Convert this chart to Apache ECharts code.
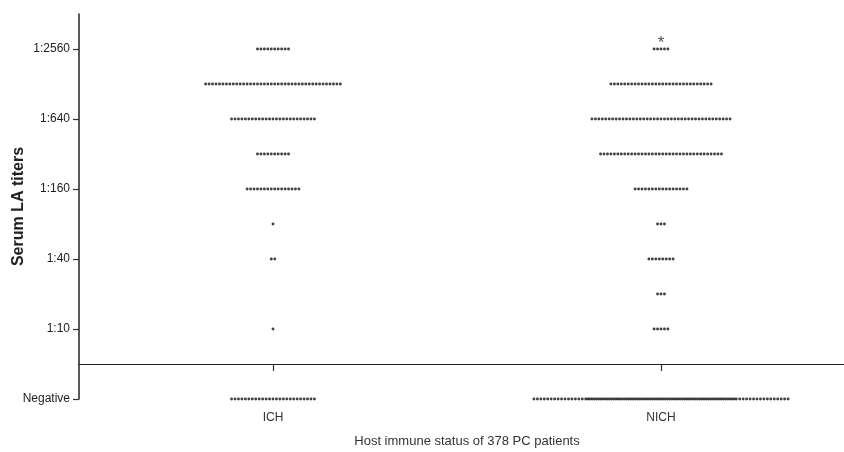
<!DOCTYPE html>
<html>
<head>
<meta charset="utf-8">
<script src="https://cdn.jsdelivr.net/npm/echarts@6/dist/echarts.min.js"></script>
<style>
  html, body { margin: 0; padding: 0; background: #fff; }
  #chart { width: 844px; height: 452px; }
</style>
</head>
<body>
<div id="chart"></div>
<script>
// 滴度分组（Negative 画在 -1，1:10 起依次 1..9）
var titerLabels = ['Negative', '1:10', '1:20', '1:40', '1:80', '1:160', '1:320', '1:640', '1:1280', '1:2560'];
var titerLevels = [-1, 1, 2, 3, 4, 5, 6, 7, 8, 9];
// 每组病人数（对应 titerLabels 顺序）
var ichCounts = [25, 1, 0, 2, 1, 16, 10, 25, 40, 10];
var nichCounts = [101, 5, 3, 8, 3, 16, 36, 41, 30, 5];
var groups = ['ICH', 'NICH'];
var groupPos = [1, 3];
// 只显示这几个刻度
var tickLevels = [-1, 1, 3, 5, 7, 9];

var STEP = 0.0178;   // 点间距（x 轴单位）
var MAX_W = 1.31;    // 一行最大宽度
var EDGE = 15;       // 超宽时两端稀疏点数

// 一行点的横向偏移
function rowOffsets(n) {
  var out = [];
  var fit = Math.floor(MAX_W / STEP) + 1;
  if (n <= fit) {
    for (var i = 0; i < n; i++) out.push((i - (n - 1) / 2) * STEP);
    return out;
  }
  var mid = n - 2 * EDGE;
  var midW = MAX_W - 2 * EDGE * STEP;
  var midStep = midW / (mid - 1);
  for (var a = 0; a < EDGE; a++) out.push(-MAX_W / 2 + a * STEP);
  for (var b = 0; b < mid; b++) out.push(-midW / 2 + b * midStep);
  for (var c = 0; c < EDGE; c++) out.push(midW / 2 + (c + 1) * STEP);
  return out;
}

function buildDots(counts, center) {
  var pts = [];
  counts.forEach(function (n, k) {
    rowOffsets(n).forEach(function (dx) {
      pts.push([center + dx, titerLevels[k]]);
    });
  });
  return pts;
}

var chart = echarts.init(document.getElementById('chart'));
var dotStyle = { color: '#111' };

chart.setOption({
  backgroundColor: '#ffffff',
  animation: false,
  grid: { left: 79, right: -11, top: 14, bottom: 53, containLabel: false, outerBoundsMode: 'none' },
  xAxis: {
    type: 'value',
    min: 0,
    max: 4,
    name: 'Host immune status of 378 PC patients',
    nameLocation: 'middle',
    nameGap: 36,
    nameMoveOverlap: false,
    nameTextStyle: { fontFamily: 'Liberation Sans', fontSize: 13, color: '#333' },
    splitLine: { show: false },
    axisLine: { onZero: true, lineStyle: { color: '#222', width: 1.2 } },
    axisTick: {
      customValues: groupPos,
      length: 7,
      lineStyle: { color: '#333', width: 1.2 }
    },
    axisLabel: {
      customValues: groupPos,
      margin: 13,
      fontFamily: 'Liberation Sans',
      fontSize: 12,
      color: '#333',
      formatter: function (v) { return groups[groupPos.indexOf(v)]; }
    }
  },
  yAxis: {
    type: 'value',
    min: -1,
    max: 10,
    name: 'Serum LA titers',
    nameLocation: 'middle',
    nameGap: 52,
    nameMoveOverlap: false,
    nameTextStyle: { fontFamily: 'Liberation Sans', fontSize: 16, fontWeight: 'bold', color: '#222' },
    splitLine: { show: false },
    axisLine: { show: true, onZero: false, lineStyle: { color: '#222', width: 1.5 } },
    axisTick: {
      customValues: tickLevels,
      length: 6,
      lineStyle: { color: '#333', width: 1.2 }
    },
    axisLabel: {
      customValues: tickLevels,
      margin: 9,
      fontFamily: 'Liberation Sans',
      fontSize: 12,
      color: '#222',
      formatter: function (v) { return titerLabels[titerLevels.indexOf(v)]; }
    }
  },
  series: [
    {
      name: 'ICH',
      type: 'scatter',
      symbol: 'circle',
      symbolSize: 2.9,
      itemStyle: dotStyle,
      data: buildDots(ichCounts, groupPos[0])
    },
    {
      name: 'NICH',
      type: 'scatter',
      symbol: 'circle',
      symbolSize: 2.9,
      itemStyle: dotStyle,
      data: buildDots(nichCounts, groupPos[1])
    },
    {
      // 星号
      type: 'scatter',
      symbolSize: 0,
      silent: true,
      label: {
        show: true,
        position: 'top',
        distance: -3,
        formatter: '*',
        fontFamily: 'Liberation Sans',
        fontSize: 17,
        color: '#222'
      },
      data: [[groupPos[1], 9]]
    }
  ]
});
</script>
</body>
</html>
